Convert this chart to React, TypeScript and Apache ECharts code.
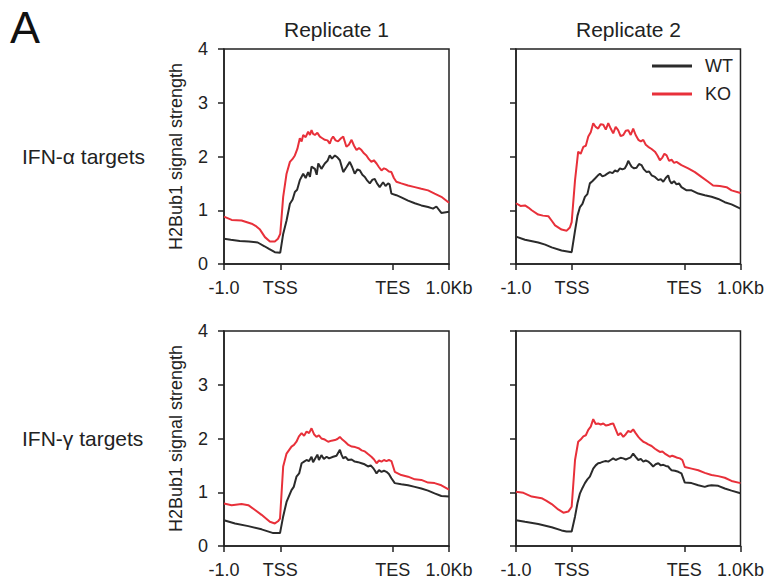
import React, { useEffect, useRef } from "react";
import * as echarts from "echarts";

type Pt = [number, number];

// x: 0 = -1.0 kb, 25 = TSS, 75 = TES, 100 = +1.0 kb
const xTickValues = [0, 25, 75, 100];
const xTickLabels = ["-1.0", "TSS", "TES", "1.0Kb"];
const colTitles = ["Replicate 1", "Replicate 2"];
const rowTitles = ["IFN-α targets", "IFN-γ targets"];
const seriesNames = ["WT", "KO"];

const alphaRep1WT: Pt[] = [[0,0.47],[3,0.45],[7,0.43],[11,0.42],[15,0.40],[18,0.33],[20,0.28],[22.6,0.22],[25,0.21],[26.3,0.56],[27.8,0.81],[29.3,1.12],[30.5,1.20],[31.5,1.34],[32.5,1.38],[33.7,1.56],[35.2,1.68],[36.3,1.60],[37.4,1.71],[38.2,1.62],[38.9,1.81],[40.4,1.77],[41.2,1.66],[41.9,1.87],[43.3,1.77],[44.8,1.87],[46,1.92],[47,2.02],[48,1.96],[49.3,2.02],[50.5,1.98],[51.5,1.93],[53,1.71],[54.4,1.80],[55.9,1.90],[57,1.80],[58.1,1.68],[59.3,1.76],[60.4,1.74],[61.5,1.66],[62.6,1.62],[63.7,1.55],[64.8,1.50],[66,1.57],[67,1.58],[68,1.50],[69.2,1.43],[70.7,1.52],[71.8,1.45],[72.9,1.50],[73.6,1.48],[74.4,1.31],[76.6,1.28],[78.8,1.24],[81.8,1.18],[84.8,1.13],[87.7,1.09],[90.7,1.06],[92.9,1.03],[94.4,1.07],[96.6,0.95],[100,0.97]];
const alphaRep1KO: Pt[] = [[0,0.88],[3.4,0.82],[7.8,0.81],[12.3,0.75],[14,0.71],[16,0.64],[18.2,0.50],[20.4,0.42],[22.6,0.42],[24,0.47],[25,0.56],[26.3,1.25],[27.8,1.68],[29.3,1.90],[30.4,1.95],[31.5,2.02],[32.6,2.14],[33.7,2.34],[34.5,2.28],[35.2,2.40],[36.3,2.36],[37.4,2.46],[38.2,2.40],[38.9,2.49],[39.6,2.42],[40.4,2.40],[41.5,2.44],[42.6,2.37],[43.7,2.34],[44.8,2.31],[46,2.30],[47,2.24],[47.8,2.33],[48.5,2.37],[49.6,2.30],[50.7,2.28],[52,2.34],[53,2.37],[54.4,2.18],[55.5,2.22],[56.7,2.31],[57.8,2.20],[58.9,2.12],[60,2.16],[61.1,2.12],[62.2,2.06],[63.3,2.02],[64.4,1.95],[65.5,1.90],[66.6,1.93],[67.8,1.87],[68.9,1.80],[70,1.74],[71.1,1.78],[72.2,1.76],[73.3,1.72],[74.4,1.71],[75.5,1.60],[76.6,1.53],[78.8,1.50],[81.8,1.46],[84.8,1.43],[87.7,1.40],[90.7,1.37],[93.6,1.31],[96.6,1.25],[100,1.14]];
const alphaRep2WT: Pt[] = [[0,0.51],[4,0.45],[9.9,0.40],[13,0.36],[15.9,0.31],[20.3,0.25],[24.8,0.22],[26.3,0.62],[27.4,0.90],[28.5,1.06],[29.6,1.12],[30.7,1.25],[31.8,1.30],[32.9,1.50],[34,1.54],[35.2,1.59],[36.3,1.64],[37.4,1.68],[38.5,1.63],[39.6,1.65],[40.7,1.68],[41.8,1.71],[43,1.69],[44.1,1.74],[45.2,1.72],[46.3,1.78],[47.4,1.76],[48.5,1.78],[49.3,1.84],[50,1.92],[50.8,1.86],[51.5,1.81],[52.6,1.78],[53.7,1.79],[54.8,1.86],[55.9,1.84],[57,1.76],[58.2,1.71],[59.3,1.72],[60.4,1.65],[61.9,1.62],[63.4,1.56],[64.5,1.58],[65.6,1.53],[66.7,1.60],[67.8,1.65],[68.5,1.55],[69.3,1.50],[70.4,1.54],[71.5,1.48],[72.6,1.50],[73.7,1.43],[76,1.37],[78.2,1.37],[81.2,1.31],[84.1,1.28],[87.1,1.25],[90.1,1.21],[93,1.15],[96,1.11],[100,1.03]];
const alphaRep2KO: Pt[] = [[0,1.13],[2,1.08],[4,1.09],[5.5,1.05],[7,1.0],[9.9,0.92],[12,0.90],[14.4,0.89],[16,0.80],[17.4,0.72],[20.3,0.64],[22.6,0.62],[24,0.68],[24.8,0.78],[26.3,1.56],[27.7,2.09],[28.8,2.05],[30,2.18],[31.1,2.20],[32.2,2.37],[33.3,2.45],[34.4,2.62],[35.5,2.55],[36.6,2.52],[37.7,2.60],[38.9,2.59],[40,2.50],[41.1,2.62],[42.2,2.52],[43.3,2.43],[44.4,2.55],[45.5,2.49],[46.6,2.38],[47.8,2.40],[48.9,2.48],[50,2.49],[51.1,2.40],[52.2,2.52],[53.3,2.40],[54.5,2.31],[55.6,2.28],[56.7,2.31],[57.8,2.22],[58.9,2.18],[60.4,2.14],[61.9,2.09],[63,2.02],[64.1,1.93],[65.2,1.98],[66.1,2.05],[67.1,2.02],[68.2,1.92],[69.3,1.94],[70.4,1.88],[71.5,1.90],[73.7,1.84],[76.7,1.78],[79.7,1.71],[82.6,1.62],[85.6,1.53],[87.8,1.46],[90.8,1.45],[93.8,1.43],[96,1.37],[100,1.32]];
const gammaRep1WT: Pt[] = [[0,0.48],[4.9,0.42],[10.8,0.37],[16.7,0.31],[21.9,0.24],[24.9,0.24],[26.3,0.55],[27.8,0.82],[30,1.04],[31,1.10],[32.2,1.29],[33.4,1.35],[34.5,1.54],[35.6,1.57],[36.7,1.60],[37.8,1.58],[38.9,1.66],[39.6,1.56],[40.4,1.62],[41.5,1.70],[42.2,1.60],[43.3,1.69],[44.4,1.62],[45.6,1.66],[46.7,1.63],[48.5,1.66],[50,1.68],[51.5,1.79],[52.2,1.70],[53,1.63],[54,1.66],[55.2,1.60],[56.7,1.61],[58.1,1.57],[59.6,1.56],[61.1,1.54],[62.5,1.52],[64,1.48],[65.2,1.50],[66.3,1.45],[67.1,1.40],[67.8,1.35],[68.9,1.41],[70,1.38],[71.1,1.40],[72.2,1.38],[73.3,1.34],[74.4,1.26],[75.9,1.17],[78.8,1.15],[81.8,1.13],[84.8,1.10],[87.7,1.07],[90.7,1.03],[93.6,0.98],[96.6,0.93],[100,0.92]];
const gammaRep1KO: Pt[] = [[0,0.79],[3.4,0.76],[7.8,0.78],[10.8,0.76],[13.8,0.67],[16.7,0.58],[20.4,0.45],[22.6,0.42],[24,0.46],[24.9,0.51],[26.3,1.48],[27.8,1.72],[30,1.85],[31.1,1.88],[32.2,1.94],[33.3,2.04],[34.5,2.10],[35.6,2.05],[36.7,2.13],[37.8,2.10],[38.9,2.19],[40,2.08],[41.1,2.03],[42.2,2.06],[43.3,2.00],[44.8,1.98],[46.3,1.94],[47.8,1.96],[49.3,1.97],[50.4,1.99],[51.5,2.03],[52.6,1.98],[53.8,1.94],[55.3,1.88],[56.8,1.85],[58.3,1.84],[59.8,1.82],[61.2,1.78],[62.6,1.76],[64,1.71],[65.5,1.66],[66.7,1.61],[67.8,1.54],[68.9,1.59],[70,1.57],[71.1,1.60],[72.2,1.58],[73.3,1.60],[74.4,1.58],[75.9,1.38],[78.8,1.32],[81.8,1.29],[84.8,1.24],[87.7,1.23],[90.7,1.18],[93.6,1.17],[96.6,1.13],[100,1.05]];
const gammaRep2WT: Pt[] = [[0,0.48],[4,0.45],[9.9,0.41],[15.9,0.35],[20.3,0.29],[22.5,0.27],[24.8,0.27],[26.3,0.55],[27.4,0.80],[28.5,0.98],[29.6,1.08],[30.7,1.17],[31.8,1.24],[32.9,1.29],[34.4,1.44],[35.5,1.50],[36.6,1.54],[37.7,1.55],[38.9,1.57],[40,1.58],[41.1,1.57],[42.2,1.60],[43.3,1.63],[44.4,1.60],[45.5,1.62],[46.6,1.64],[47.8,1.63],[48.9,1.61],[50,1.63],[51.1,1.65],[52.2,1.72],[53.3,1.66],[54.5,1.60],[55.6,1.62],[56.7,1.57],[57.8,1.59],[58.9,1.57],[60,1.53],[61.1,1.48],[62.2,1.52],[63.4,1.54],[64.5,1.50],[65.6,1.51],[66.7,1.49],[67.8,1.48],[68.5,1.44],[69.3,1.41],[70.8,1.40],[72.3,1.38],[73.7,1.35],[75.2,1.18],[78.2,1.17],[81.2,1.13],[84.1,1.10],[85.6,1.12],[87.1,1.13],[90.1,1.12],[93,1.07],[96,1.03],[100,0.98]];
const gammaRep2KO: Pt[] = [[0,1.01],[3.3,0.99],[7,0.92],[11.4,0.89],[13.6,0.84],[15.9,0.78],[18.8,0.68],[21.1,0.62],[23.3,0.64],[24.8,0.73],[26.3,1.60],[27.7,1.94],[28.8,1.98],[30,2.04],[31.1,2.06],[32.2,2.16],[33.3,2.22],[34.4,2.36],[35.5,2.27],[36.6,2.28],[37.7,2.26],[38.9,2.28],[40,2.24],[41.1,2.25],[42.2,2.27],[43.3,2.28],[44.4,2.17],[45.5,2.06],[46.6,2.10],[47.8,2.03],[48.9,2.08],[50,2.14],[51.1,2.12],[52.2,2.17],[53.3,2.10],[54.5,2.03],[55.6,1.98],[56.7,1.94],[57.8,1.92],[58.9,1.89],[60.4,1.86],[61.9,1.81],[63,1.78],[64.1,1.75],[65.2,1.76],[66.3,1.72],[67.4,1.69],[68.5,1.66],[69.6,1.68],[70.8,1.66],[71.9,1.64],[73,1.63],[74.1,1.60],[75.2,1.47],[78.2,1.44],[81.2,1.41],[84.1,1.36],[87.1,1.32],[90.1,1.30],[93,1.27],[96,1.21],[100,1.17]];

const FONT = "'Liberation Sans', Arial, Helvetica, sans-serif";
const INK = "#222222";
const WT_COLOR = "#2b2b2b";
const KO_COLOR = "#e8303a";

const panels = [
  { wt: alphaRep1WT, ko: alphaRep1KO, left: 224, top: 49, yLabels: true },
  { wt: alphaRep2WT, ko: alphaRep2KO, left: 516, top: 49, yLabels: false },
  { wt: gammaRep1WT, ko: gammaRep1KO, left: 224, top: 331, yLabels: true },
  { wt: gammaRep2WT, ko: gammaRep2KO, left: 516, top: 331, yLabels: false },
];

export default function App() {
  const ref = useRef<HTMLDivElement>(null);
  useEffect(() => {
    document.body.style.margin = "0";
    if (!ref.current) return;
    const chart = echarts.init(ref.current, null, { renderer: "svg" });
    const grids = panels.map((p) => ({
      left: p.left,
      top: p.top,
      width: 225,
      height: 215,
      show: true,
      borderColor: INK,
      borderWidth: 1.5,
      backgroundColor: "transparent",
    }));
    const xAxes = panels.map((p, i) => ({
      gridIndex: i,
      type: "value",
      min: 0,
      max: 100,
      axisLine: { show: true, onZero: false, lineStyle: { color: INK, width: 1.5 } },
      axisTick: { show: true, length: 6, customValues: xTickValues, lineStyle: { color: INK, width: 1.5 } },
      axisLabel: {
        show: true,
        customValues: xTickValues,
        formatter: (v: number) => xTickLabels[xTickValues.indexOf(v)] ?? "",
        fontSize: 18,
        color: INK,
        fontFamily: FONT,
        margin: 15,
      },
      splitLine: { show: false },
    }));
    const yAxes = panels.map((p, i) => ({
      gridIndex: i,
      type: "value",
      min: 0,
      max: 4,
      interval: 1,
      name: p.yLabels ? "H2Bub1 signal strength" : "",
      nameLocation: "middle",
      nameRotate: 90,
      nameGap: 39,
      nameTextStyle: { fontSize: 18, color: INK, fontFamily: FONT },
      axisLine: { show: true, onZero: false, lineStyle: { color: INK, width: 1.5 } },
      axisTick: { show: true, length: 6, lineStyle: { color: INK, width: 1.5 } },
      axisLabel: { show: p.yLabels, fontSize: 18, color: INK, fontFamily: FONT, margin: 16 },
      splitLine: { show: false },
    }));
    const series: any[] = [];
    panels.forEach((p, i) => {
      [p.wt, p.ko].forEach((d, k) => {
        series.push({
          type: "line",
          name: seriesNames[k],
          xAxisIndex: i,
          yAxisIndex: i,
          data: d,
          showSymbol: false,
          symbol: "none",
          lineStyle: { width: 2, color: k === 0 ? WT_COLOR : KO_COLOR },
          itemStyle: { color: k === 0 ? WT_COLOR : KO_COLOR },
          z: k === 0 ? 3 : 2,
        });
      });
    });
    const graphics: any[] = [
      { type: "text", left: 10, top: 5, style: { text: "A", font: `45px ${FONT}`, fill: "#111" } },
      ...colTitles.map((t, j) => ({
        type: "text",
        x: panels[j].left + 112.5,
        y: 29,
        style: { text: t, font: `21px ${FONT}`, fill: INK, align: "center", verticalAlign: "middle" },
      })),
      ...rowTitles.map((t, j) => ({
        type: "text",
        x: 22,
        y: panels[j * 2].top + 107,
        style: { text: t, font: `21px ${FONT}`, fill: INK, align: "left", verticalAlign: "middle" },
      })),
    ];
    chart.setOption({
      animation: false,
      backgroundColor: "#ffffff",
      grid: grids,
      xAxis: xAxes,
      yAxis: yAxes,
      series,
      legend: {
        data: seriesNames,
        orient: "vertical",
        left: 652,
        top: 57,
        itemWidth: 40,
        itemHeight: 3,
        itemGap: 10,
        icon: "rect",
        padding: 0,
        selectedMode: false,
        textStyle: { fontSize: 18, color: INK, fontFamily: FONT, padding: [0, 0, 0, 8] },
      },
      graphic: graphics,
    });
    return () => chart.dispose();
  }, []);
  return <div ref={ref} style={{ width: 767, height: 586 }} />;
}
